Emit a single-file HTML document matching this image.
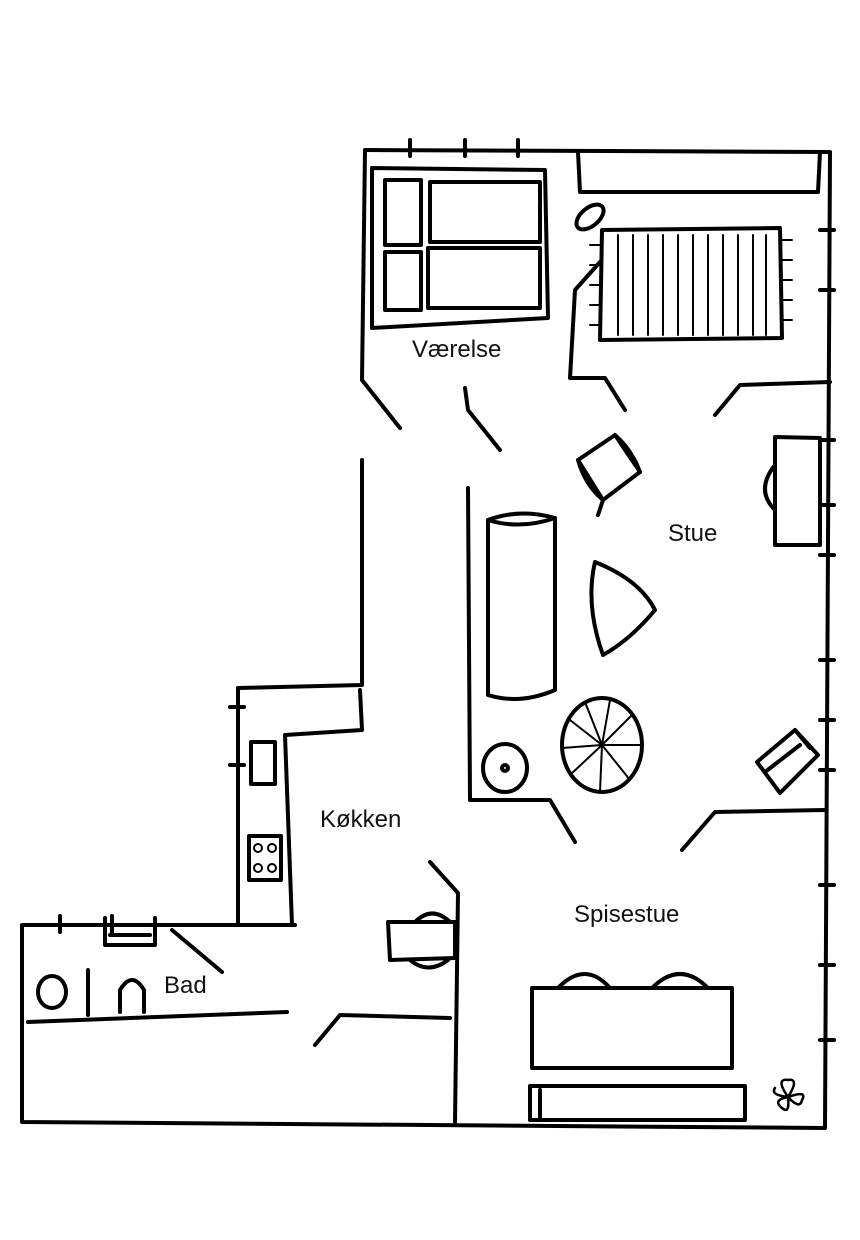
<!DOCTYPE html>
<html><head><meta charset="utf-8"><style>
html,body{margin:0;padding:0;background:#fff;}
svg{display:block}
text{font-family:"Liberation Sans",sans-serif;font-size:24px;fill:#111;}
</style></head><body>
<svg width="860" height="1240" viewBox="0 0 860 1240" xmlns="http://www.w3.org/2000/svg">
<g fill="none" stroke="#000" stroke-width="4" stroke-linecap="round" stroke-linejoin="round">
<!-- outer walls -->
<path d="M365,150 L830,152 L825,1128 L22,1122 L22,925 L295,925"/>
<path d="M410,140 v16 M465,140 v16 M518,140 v16"/>
<path d="M820,230 h14 M820,290 h14 M820,440 h14 M820,505 h14 M820,555 h14 M820,660 h14 M820,720 h14 M820,770 h14 M820,885 h14 M820,965 h14 M820,1040 h14"/>
<path d="M60,916 v16 M112,916 v16 M230,707 h14 M230,765 h14"/>
<!-- værelse -->
<path d="M365,150 L362,380 L400,428"/>
<path d="M600,262 L575,290 L570,378 L605,378 L625,410"/>
<path d="M465,388 L468,410 L500,450"/>
<path d="M715,415 L740,385 L830,382"/>
<!-- stue left -->
<path d="M468,488 L470,800 L550,800 L575,842"/>
<path d="M682,850 L715,812 L825,810"/>
<!-- kitchen -->
<path d="M362,460 L362,685 L238,688 L238,925"/>
<path d="M360,690 L362,730 L285,735 L292,925"/>
<path d="M430,862 L458,893 L455,1122"/>
<!-- bad -->
<path d="M28,1022 L287,1012"/>
<path d="M172,930 L222,972"/>
<path d="M315,1045 L340,1015 L450,1018"/>
<path d="M88,970 L88,1015"/>
<path d="M105,918 L105,945 L155,945 L155,918 M110,935 H150"/>
<ellipse cx="52" cy="992" rx="14" ry="16"/>
<path d="M120,1012 L120,990 Q132,970 144,990 L144,1012"/>
<!-- bed -->
<path d="M372,168 L545,170 L548,318 L372,328 Z"/>
<path d="M385,180 h36 v65 h-36 Z M430,182 h110 v60 h-110 Z M385,252 h36 v58 h-36 Z M428,248 h112 v60 h-112 Z"/>
<!-- bench top -->
<path d="M578,152 L580,192 L818,192 L820,152"/>
<ellipse cx="590" cy="217" rx="16" ry="9" transform="rotate(-40 590 217)"/>
<!-- rug -->
<path d="M602,230 L780,228 L782,338 L600,340 Z"/>
<path d="M618,235 v100 M633,235 v100 M648,235 v100 M663,235 v100 M678,235 v100 M693,235 v100 M708,235 v100 M723,235 v100 M738,235 v100 M753,235 v100 M766,235 v100" stroke-width="2"/>
<path d="M590,245 h10 M590,265 h10 M590,285 h10 M590,305 h10 M590,325 h10 M782,240 h10 M782,260 h10 M782,280 h10 M782,300 h10 M782,320 h10" stroke-width="2"/>
<!-- chair -->
<path d="M578,460 L615,435 L640,472 L603,500 Z"/>
<path d="M578,460 Q585,485 603,500 M615,435 Q632,450 640,472"/>
<path d="M603,500 L598,515"/>
<!-- sofa -->
<path d="M488,520 Q520,508 555,518 L555,690 Q520,705 488,695 Z"/>
<path d="M488,520 Q520,530 555,518"/>
<!-- triangle table -->
<path d="M595,562 Q640,580 655,610 Q630,640 603,655 Q585,605 595,562 Z"/>
<!-- round rug -->
<ellipse cx="602" cy="745" rx="40" ry="47"/>
<path d="M602,745 L570,720 M602,745 L585,702 M602,745 L610,700 M602,745 L632,715 M602,745 L642,745 M602,745 L630,780 M602,745 L600,792 M602,745 L570,775 M602,745 L562,748" stroke-width="2"/>
<!-- small round table -->
<ellipse cx="505" cy="768" rx="22" ry="24"/>
<circle cx="505" cy="768" r="3"/>
<!-- desk -->
<path d="M775,437 L820,438 L820,545 L775,545 Z"/>
<path d="M775,465 Q755,490 775,510"/>
<!-- chair right -->
<path d="M757,762 L795,730 L818,755 L780,793 Z"/>
<path d="M765,772 L800,745 M795,730 L810,748"/>
<!-- sink & stove -->
<rect x="251" y="742" width="24" height="42"/>
<rect x="249" y="836" width="32" height="44"/>
<circle cx="258" cy="848" r="4" stroke-width="2"/><circle cx="272" cy="848" r="4" stroke-width="2"/>
<circle cx="258" cy="868" r="4" stroke-width="2"/><circle cx="272" cy="868" r="4" stroke-width="2"/>
<!-- kitchen table -->
<path d="M388,922 L455,922 L455,958 L390,960 Z"/>
<path d="M415,922 Q432,905 450,922 M410,960 Q428,975 448,960"/>
<!-- dining -->
<rect x="532" y="988" width="200" height="80"/>
<path d="M558,988 Q585,960 610,988 M652,988 Q680,960 708,988"/>
<rect x="530" y="1086" width="215" height="34"/>
<path d="M540,1090 v28"/>
<!-- flower -->
<path d="M788,1097 Q775,1078 788,1080 Q800,1078 788,1097 Q808,1090 802,1100 Q800,1110 788,1097 Q790,1115 782,1108 Q772,1100 788,1097 Q770,1095 775,1088" stroke-width="2.5"/>
</g>
<text x="412" y="357">Værelse</text>
<text x="668" y="541">Stue</text>
<text x="320" y="827">Køkken</text>
<text x="574" y="922">Spisestue</text>
<text x="164" y="993">Bad</text>
</svg>
</body></html>
